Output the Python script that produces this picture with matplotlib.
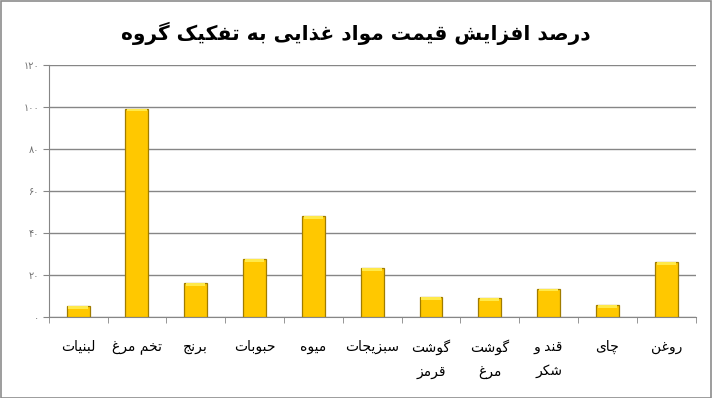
import matplotlib
matplotlib.use("Agg")
import matplotlib.pyplot as plt
from matplotlib.patches import Rectangle

# data (left to right as in the picture)
categories = ["لبنیات", "تخم مرغ", "برنج", "حبوبات", "میوه", "سبزیجات",
              "گوشت\nقرمز", "گوشت\nمرغ", "قند و\nشکر", "چای", "روغن"]
values = [5.4, 99.1, 16.4, 27.8, 48.2, 23.5, 9.7, 9.2, 13.6, 5.9, 26.2]
yticks = [0, 20, 40, 60, 80, 100, 120]
title = "درصد افزایش قیمت مواد غذایی به تفکیک گروه"

# presentation forms: iso, fin, ini, med (2-tuple = does not join to next letter)
FORMS = {
    "ا": (0xFE8D, 0xFE8E), "د": (0xFEA9, 0xFEAA), "ذ": (0xFEAB, 0xFEAC),
    "ر": (0xFEAD, 0xFEAE), "ز": (0xFEAF, 0xFEB0), "و": (0xFEED, 0xFEEE),
    "ب": (0xFE8F, 0xFE90, 0xFE91, 0xFE92), "ت": (0xFE95, 0xFE96, 0xFE97, 0xFE98),
    "ج": (0xFE9D, 0xFE9E, 0xFE9F, 0xFEA0), "ح": (0xFEA1, 0xFEA2, 0xFEA3, 0xFEA4),
    "خ": (0xFEA5, 0xFEA6, 0xFEA7, 0xFEA8), "س": (0xFEB1, 0xFEB2, 0xFEB3, 0xFEB4),
    "ش": (0xFEB5, 0xFEB6, 0xFEB7, 0xFEB8), "ص": (0xFEB9, 0xFEBA, 0xFEBB, 0xFEBC),
    "غ": (0xFECD, 0xFECE, 0xFECF, 0xFED0), "ف": (0xFED1, 0xFED2, 0xFED3, 0xFED4),
    "ق": (0xFED5, 0xFED6, 0xFED7, 0xFED8), "ل": (0xFEDD, 0xFEDE, 0xFEDF, 0xFEE0),
    "م": (0xFEE1, 0xFEE2, 0xFEE3, 0xFEE4), "ن": (0xFEE5, 0xFEE6, 0xFEE7, 0xFEE8),
    "ه": (0xFEE9, 0xFEEA, 0xFEEB, 0xFEEC), "ی": (0xFBFC, 0xFBFD, 0xFBFE, 0xFBFF),
    "ک": (0xFB8E, 0xFB8F, 0xFB90, 0xFB91), "گ": (0xFB92, 0xFB93, 0xFB94, 0xFB95),
    "چ": (0xFB7A, 0xFB7B, 0xFB7C, 0xFB7D),
}


def shape(text):
    # join letters and reverse each line for left-to-right drawing
    lines = []
    for line in text.split("\n"):
        out = []
        for i, ch in enumerate(line):
            if ch not in FORMS:
                out.append(ch)
                continue
            prev = line[i - 1] if i > 0 else ""
            nxt = line[i + 1] if i + 1 < len(line) else ""
            f = FORMS[ch]
            jp = prev in FORMS and len(FORMS[prev]) == 4
            jn = len(f) == 4 and nxt in FORMS
            if jp and jn:
                out.append(chr(f[3]))
            elif jp:
                out.append(chr(f[1]))
            elif jn:
                out.append(chr(f[2]))
            else:
                out.append(chr(f[0]))
        lines.append("".join(out)[::-1])
    return "\n".join(lines)


def fa_digits(n):
    return "".join(chr(0x06F0 + int(d)) for d in str(n))


fig = plt.figure(figsize=(7.12, 3.98), dpi=100)
fig.patches.append(Rectangle((0.001, 0.001), 0.997, 0.996, transform=fig.transFigure,
                             fill=False, edgecolor="#8c8c8c", linewidth=1.2))
ax = fig.add_axes([0.0684, 0.2028, 0.9086, 0.6346])

x = list(range(len(values)))
ax.bar(x, values, width=0.39, color="#FFC800", edgecolor="#A07C00", linewidth=0.9, zorder=3)
# light highlight on top of each bar
ax.bar(x, [1.2] * len(values), bottom=[v - 1.3 for v in values], width=0.33,
       color="#FFE94A", linewidth=0, zorder=4)

ax.set_xlim(-0.5, len(values) - 0.5)
ax.set_ylim(0, 120)
ax.set_yticks(yticks)
ax.set_yticklabels([fa_digits(v) for v in yticks], color="#707070", fontsize=7)
ax.yaxis.grid(True, color="#868686", linewidth=1, zorder=0)
ax.tick_params(axis="y", length=4, color="#868686", pad=3)

ax.set_xticks(x)
ax.set_xticklabels([shape(c) for c in categories], fontsize=10, linespacing=1.9, va="top")
ax.set_xticks([i - 0.5 for i in range(len(values) + 1)], minor=True)
ax.tick_params(axis="x", which="major", length=0, pad=16)
ax.tick_params(axis="x", which="minor", length=4, color="#868686")

for s in ["top", "right"]:
    ax.spines[s].set_visible(False)
for s in ["left", "bottom"]:
    ax.spines[s].set_color("#868686")

fig.text(0.5, 0.917, shape(title), ha="center", va="center", fontsize=14.5, fontweight="bold")

fig.savefig("out.png", dpi=100)
